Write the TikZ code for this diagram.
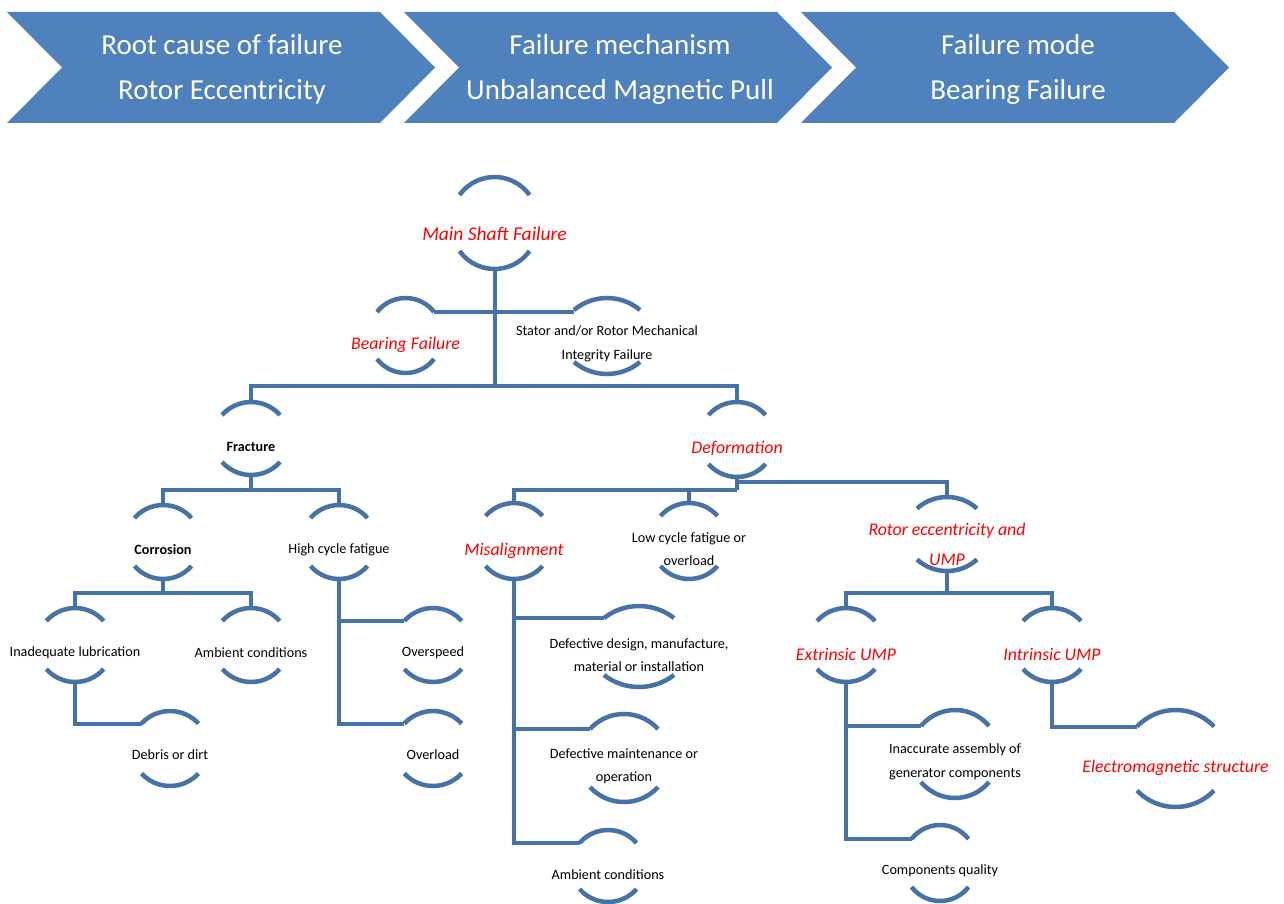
\documentclass[tikz,border=0pt]{standalone}
\usepackage{fontspec}
\setmainfont{Carlito}
\definecolor{chevblue}{HTML}{4F81BD}
\definecolor{linec}{RGB}{69,114,167}
\tikzset{
  bx/.style={draw=none,rectangle,inner sep=0pt,outer sep=0pt},
  arcl/.style={draw=linec,line width=4.5pt},
  conn/.style={draw=linec,line width=4pt},
  redt/.style={text=red,inner sep=0pt,align=center,font=\fontsize{17.8}{30}\selectfont\itshape},
  redbig/.style={redt,font=\fontsize{19.5}{30}\selectfont\itshape},
  blkt/.style={text=black,inner sep=0pt,align=center,font=\fontsize{14.2}{23.5}\selectfont},
  bldt/.style={text=black,inner sep=0pt,align=center,font=\fontsize{14.2}{23.5}\selectfont\bfseries},
  chevt/.style={text=white,inner sep=0pt,align=center,font=\fontsize{29}{45}\selectfont},
}
% #1 name, #2 cx, #3 ytop, #4 ybot, #5 a, #6 s, #7 style, #8 ytext, #9 text
\newcommand\bnode[9]{%
  \node[bx, minimum width={2*#5}, minimum height={#4-#3}] (#1) at (#2,{-(#3+#4)/2}) {};
  \node[#7] (#1-t) at (#2,-#8) {#9};
  \pgfmathsetmacro\bR{(#5*#5+#6*#6)/(2*#6)}%
  \pgfmathsetmacro\bT{asin(#5/\bR)}%
  \coordinate (#1-tl) at ({#2-#5},{-(#3+#6)});
  \coordinate (#1-tr) at ({#2+#5},{-(#3+#6)});
  \coordinate (#1-bl) at ({#2-#5},{-(#4-#6)});
  \draw[arcl] (#1-tl) arc[start angle={90+\bT}, end angle={90-\bT}, radius=\bR pt];
  \draw[arcl] (#1-bl) arc[start angle={270-\bT}, end angle={270+\bT}, radius=\bR pt];
}
\newcommand\chev[1]{%
  \fill[chevblue] (#1+7,-12) -- (#1+380,-12) -- (#1+435,-67.5) -- (#1+380,-123) -- (#1+7,-123) -- (#1+62,-67.5) -- cycle;
}
\begin{document}
\begin{tikzpicture}[x=1pt,y=1pt]
\useasboundingbox (0,0) rectangle (1284,-904);
% banner
\chev{0}\chev{397}\chev{794}
\node[chevt] (c1) at (222,-69.5) {Root cause of failure\\Rotor Eccentricity};
\node[chevt] (c2) at (620,-69.5) {Failure mechanism\\Unbalanced Magnetic Pull};
\node[chevt] (c3) at (1018,-69.5) {Failure mode\\Bearing Failure};
% nodes
\bnode{MS}{494.5}{177}{269}{35}{18}{redbig}{234}{Main Shaft Failure}
\bnode{BF}{405.5}{298}{373}{28.5}{14}{redt}{345}{Bearing Failure}
\bnode{ST}{607}{298}{374}{33}{12}{blkt}{344}{Stator and/or Rotor Mechanical\\Integrity Failure}
\bnode{FR}{251}{402}{475}{29}{13}{bldt}{447}{Fracture}
\bnode{DF}{737}{402}{477}{28.5}{13}{redt}{448}{Deformation}
\bnode{CO}{163}{505}{579}{28.5}{13}{bldt}{550}{Corrosion}
\bnode{HC}{339}{505}{579}{28.5}{13}{blkt}{550}{High cycle fatigue}
\bnode{IL}{75}{608}{682}{28.7}{13}{blkt}{653}{Inadequate lubrication}
\bnode{AC}{251}{608}{682}{28.7}{13}{blkt}{653}{Ambient conditions}
\bnode{DD}{170}{711}{786}{28.5}{12.5}{blkt}{755}{Debris or dirt}
\bnode{OS}{433}{608}{682}{28.7}{13}{blkt}{653}{Overspeed}
\bnode{OL}{433}{711}{786}{28.7}{12.5}{blkt}{755}{Overload}
\bnode{MI}{514}{503}{579}{28.5}{13}{redt}{551}{Misalignment}
\bnode{LC}{689}{503}{579}{28.5}{13}{blkt}{549}{Low cycle fatigue or\\overload}
\bnode{DE}{639}{606}{687}{35}{12}{blkt}{655}{Defective design, manufacture,\\material or installation}
\bnode{DM}{624}{714}{802}{34}{15}{blkt}{766}{Defective maintenance or\\operation}
\bnode{AB}{608}{830}{902}{28.5}{13}{blkt}{875}{Ambient conditions}
\bnode{RE}{947}{497}{571}{30}{11.5}{redt}{544}{Rotor eccentricity and\\UMP}
\bnode{EX}{846}{608}{682}{29}{13}{redt}{654}{Extrinsic UMP}
\bnode{IN}{1052}{608}{682}{29}{13}{redt}{654}{Intrinsic UMP}
\bnode{IA}{955}{710}{798}{34}{16}{blkt}{762}{Inaccurate assembly of\\generator components}
\bnode{CQ}{940}{825}{901}{28.5}{14}{blkt}{871}{Components quality}
\bnode{EM}{1175.5}{710}{807}{38.5}{16.5}{redt}{768}{Electromagnetic structure}
% bus coordinates
\coordinate (b1) at (494.5,-386);
\coordinate (b2) at (251,-490);
\coordinate (b3) at (163,-593);
\coordinate (b4) at (737,-490);
\coordinate (b5) at (737,-482);
\coordinate (b6) at (947,-593);
% connectors
\draw[conn] (MS.south) -- (b1);
\draw[conn] (BF-tr) -- (BF-tr -| ST-tl);
\draw[conn] (FR.north) -- (FR.north |- b1) -- (DF.north |- b1) -- (DF.north);
\draw[conn] (FR.south) -- (b2);
\draw[conn] (CO.north) -- (CO.north |- b2) -- (HC.north |- b2) -- (HC.north);
\draw[conn] (CO.south) -- (b3);
\draw[conn] (IL.north) -- (IL.north |- b3) -- (AC.north |- b3) -- (AC.north);
\draw[conn] (IL.south) -- (IL.south |- DD-tl) -- (DD-tl);
\draw[conn] (HC.south) -- (HC.south |- OL-tl) -- (OL-tl);
\draw[conn] (HC.south |- OS-tl) -- (OS-tl);
\draw[conn] (DF.south) -- (b4);
\draw[conn] (MI.north) -- (MI.north |- b4) -- (b4);
\draw[conn] (LC.north) -- (LC.north |- b4);
\draw[conn] (b5) -| (RE.north);
\draw[conn] (MI.south) -- (MI.south |- AB-tl) -- (AB-tl);
\draw[conn] (MI.south |- DE-tl) -- (DE-tl);
\draw[conn] (MI.south |- DM-tl) -- (DM-tl);
\draw[conn] (RE.south) -- (b6);
\draw[conn] (EX.north) -- (EX.north |- b6) -- (IN.north |- b6) -- (IN.north);
\draw[conn] (EX.south) -- (EX.south |- CQ-tl) -- (CQ-tl);
\draw[conn] (EX.south |- IA-tl) -- (IA-tl);
\draw[conn] (IN.south) -- (IN.south |- EM-tl) -- (EM-tl);
\end{tikzpicture}
\end{document}
